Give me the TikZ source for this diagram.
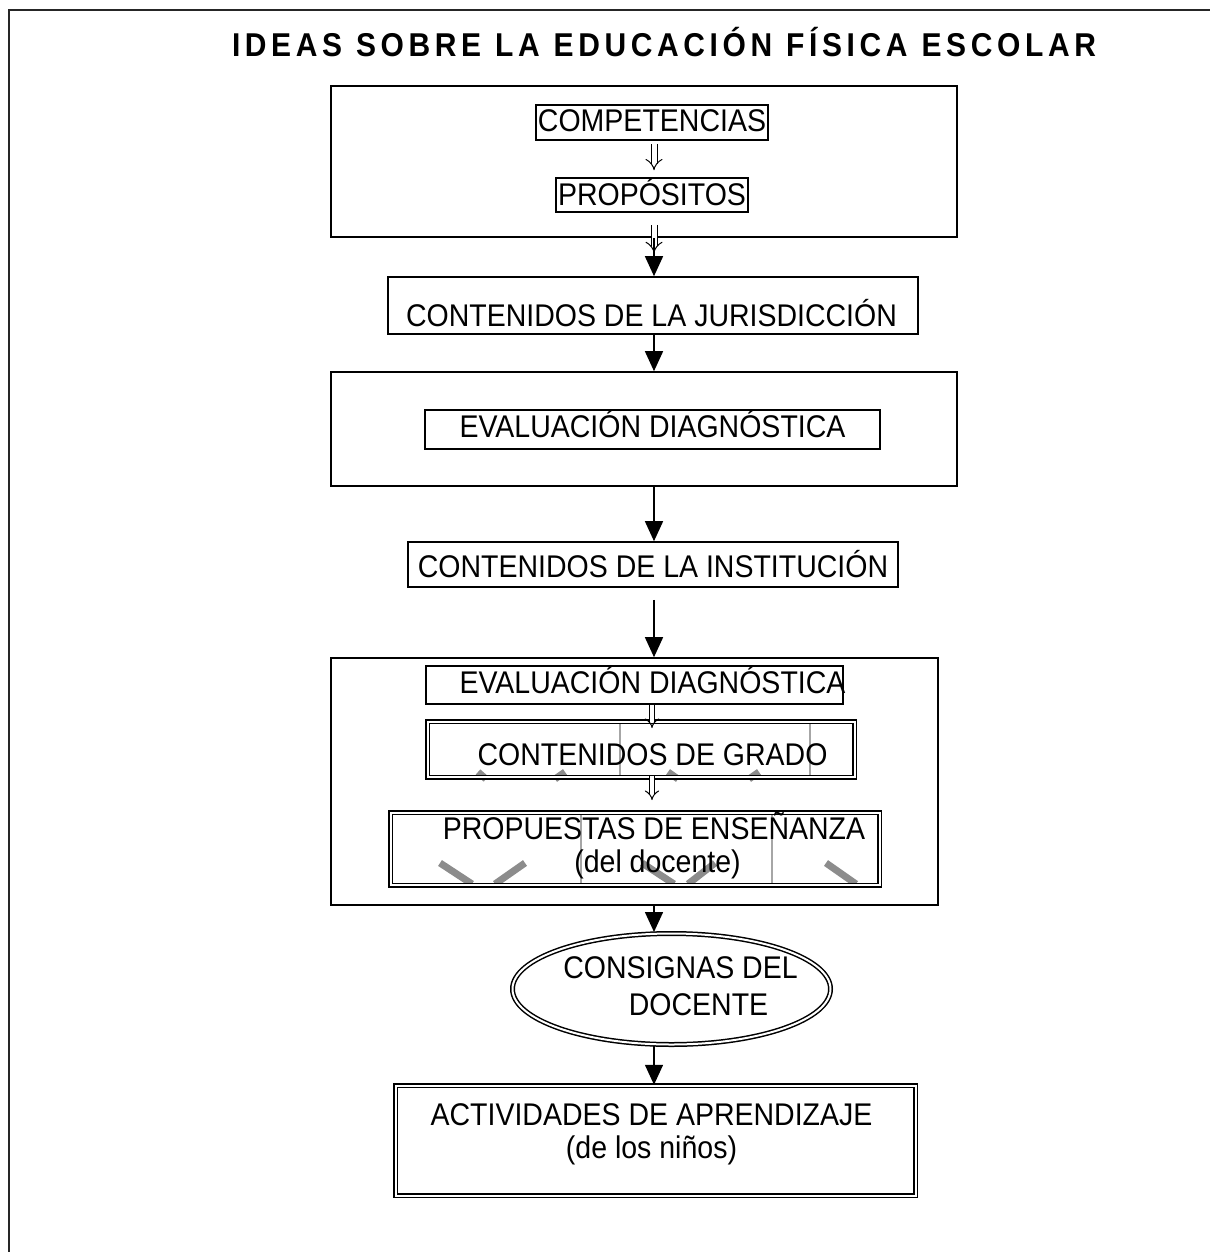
\documentclass[tikz,border=0pt]{standalone}
\usepackage{fontspec}
\setmainfont{Liberation Sans}
\usetikzlibrary{arrows.meta,shapes.geometric}
\newcommand{\tall}[1]{\scalebox{1}[1.1]{#1}}
\tikzset{
  box/.style={draw, line width=1.6pt, inner sep=0pt, rectangle},
  bigbox/.style={draw, line width=2.2pt, inner sep=0pt, rectangle},
  dbox/.style={draw, double, double distance=2pt, line width=1.5pt, inner sep=0pt},
  txt/.style={font=\fontsize{28.5}{30}\selectfont, inner sep=0pt, anchor=base},
  arr/.style={line width=1.5pt, -{Triangle[length=20pt,width=18pt]}},
  dbl/.style={double, double distance=5pt, line width=1pt, -{Implies[length=9pt,width=17pt]}},
  sdbl/.style={double, double distance=4pt, line width=1pt, -{Implies[length=7pt,width=13pt]}},
  gstroke/.style={line width=7pt, color=black!45},
  gline/.style={line width=1.2pt, color=black!35}
}
\begin{document}
\begin{tikzpicture}[x=1pt,y=-1pt]
\useasboundingbox (0,0) rectangle (1210,1252);
% outer frame
\draw[line width=2.8pt, black!85] (9,1252) -- (9,10) -- (1210,10);
% title
\node[anchor=base, inner sep=0pt, font=\fontsize{30}{32}\selectfont\bfseries] (title) at (664,57)
 {\tall{\makebox[864pt][s]{I\hfil D\hfil E\hfil A\hfil S\hfil\hfil\hfil S\hfil O\hfil B\hfil R\hfil E\hfil\hfil\hfil L\hfil A\hfil\hfil\hfil E\hfil D\hfil U\hfil C\hfil A\hfil C\hfil I\hfil Ó\hfil N\hfil\hfil\hfil F\hfil Í\hfil S\hfil I\hfil C\hfil A\hfil\hfil\hfil E\hfil S\hfil C\hfil O\hfil L\hfil A\hfil R}}};
% axis of the main arrows
\coordinate (ax) at (654,0);

% gray artifacts
\draw[gline] (620,721) -- (620,777);
\draw[gline] (810,721) -- (810,777);
\draw[gline] (581,812) -- (581,885);
\draw[gline] (772,812) -- (772,885);
\draw[gstroke] (478,772) -- (486,779);
\draw[gstroke] (555,779) -- (565,772);
\draw[gstroke] (668,772) -- (678,779);
\draw[gstroke] (749,779) -- (759,772);
\draw[gstroke] (440,863) -- (472,884);
\draw[gstroke] (495,884) -- (525,863);
\draw[gstroke] (642,863) -- (674,884);
\draw[gstroke] (688,884) -- (715,863);
\draw[gstroke] (826,863) -- (856,884);

% boxes
\node[bigbox, minimum width=626pt, minimum height=151pt] (box1) at (644,161.5) {};
\node[box, minimum width=232pt, minimum height=35pt] (comp) at (652,122.5) {};
\node[box, minimum width=192pt, minimum height=34pt] (prop) at (652,195) {};
\node[box, minimum width=530pt, minimum height=57pt] (jur) at (653,305.5) {};
\node[box, minimum width=626pt, minimum height=114pt] (ev1o) at (644,429) {};
\node[box, minimum width=455pt, minimum height=39pt] (ev1) at (652.5,429.5) {};
\node[box, minimum width=490pt, minimum height=45pt] (inst) at (653,564.5) {};
\node[box, minimum width=607pt, minimum height=247pt] (big) at (634.5,781.5) {};
\node[box, minimum width=417pt, minimum height=38pt] (ev2) at (634.5,685) {};
\node[dbox, minimum width=427pt, minimum height=55.5pt] (grado) at (641,749.25) {};
\node[dbox, minimum width=489pt, minimum height=72.5pt] (prp) at (635,848.75) {};
\node[dbox, ellipse, minimum width=318pt, minimum height=111pt] (cons) at (671.5,989) {};
\node[dbox, minimum width=520pt, minimum height=110pt] (act) at (655.5,1140.5) {};

% texts
\node[txt] (tcomp) at (652,132) {\tall{COMPETENCIAS}};
\node[txt] (tprop) at (652,205) {\tall{PROPÓSITOS}};
\node[txt] (tjur) at (651.5,326) {\tall{CONTENIDOS DE LA JURISDICCIÓN}};
\node[txt] (tev1) at (652.5,437) {\tall{EVALUACIÓN DIAGNÓSTICA}};
\node[txt] (tinst) at (653,577) {\tall{CONTENIDOS DE LA INSTITUCIÓN}};
\node[txt] (tev2) at (652.5,693) {\tall{EVALUACIÓN DIAGNÓSTICA}};
\node[txt] (tgrado) at (652.5,765) {\tall{CONTENIDOS DE GRADO}};
\node[txt] (tprp1) at (654,839) {\tall{PROPUESTAS DE ENSEÑANZA}};
\node[txt] (tprp2) at (657.5,872) {\tall{(del docente)}};
\node[txt] (tcons1) at (680.5,978) {\tall{CONSIGNAS DEL}};
\node[txt] (tcons2) at (698.5,1015) {\tall{DOCENTE}};
\node[txt] (tact1) at (651.5,1125) {\tall{ACTIVIDADES DE APRENDIZAJE}};
\node[txt] (tact2) at (651.5,1158) {\tall{(de los niños)}};

% double arrows
\coordinate (d2) at (654,253);
\coordinate (g1) at (652,728);
\coordinate (g2) at (652,800);
\draw[dbl, shorten <=3pt, shorten >=7pt] (comp.south -| ax) -- (prop.north -| ax);
\draw[dbl, shorten <=12pt] (prop.south -| ax) -- (d2);
\draw[sdbl] (ev2.south -| g1) -- (g1);
\draw[sdbl, shorten <=-2pt] (grado.south -| g2) -- (g2);

% solid arrows
\draw[arr] (box1.south -| ax) -- (jur.north -| ax);
\draw[arr] (jur.south -| ax) -- (ev1o.north -| ax);
\draw[arr] (ev1o.south -| ax) -- (inst.north -| ax);
\draw[arr, shorten <=12pt] (inst.south -| ax) -- (big.north -| ax);
\draw[arr] (big.south -| ax) -- (ax |- 0,932);
\coordinate (ce) at (654,1046);
\draw[arr] (ce) -- (act.north -| ax);
\end{tikzpicture}
\end{document}
